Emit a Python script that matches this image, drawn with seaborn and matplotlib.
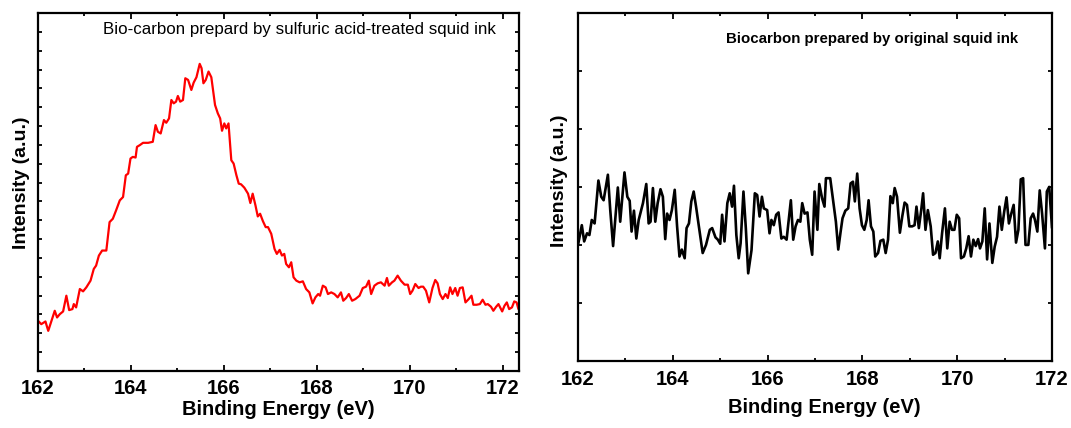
import numpy as np
import pandas as pd
import matplotlib
matplotlib.use('Agg')
import matplotlib.pyplot as plt
from matplotlib.ticker import MultipleLocator, FixedLocator, NullFormatter
import seaborn as sns

sns.set_theme(style='ticks')
plt.rcParams['font.family'] = ['Liberation Sans', 'DejaVu Sans']
plt.rcParams['text.color'] = 'black'
plt.rcParams['axes.labelcolor'] = 'black'
plt.rcParams['xtick.color'] = 'black'
plt.rcParams['ytick.color'] = 'black'

# S 2p spectrum, sulfuric acid-treated squid ink (binding energy in eV, intensity a.u.)
be_acid = [162.00, 162.07, 162.16, 162.22, 162.29, 162.36, 162.41, 162.47, 162.54, 162.61,
           162.67, 162.74, 162.77, 162.82, 162.90, 162.97, 163.04, 163.13, 163.20, 163.25,
           163.31, 163.38, 163.47, 163.54, 163.61, 163.68, 163.76, 163.83, 163.89, 163.94,
           163.99, 164.04, 164.10, 164.13, 164.19, 164.26, 164.37, 164.47, 164.53, 164.58,
           164.64, 164.71, 164.76, 164.82, 164.87, 164.92, 164.97, 165.01, 165.06, 165.12,
           165.17, 165.23, 165.30, 165.35, 165.41, 165.48, 165.52, 165.56, 165.61, 165.67,
           165.73, 165.78, 165.81, 165.87, 165.92, 165.96, 166.01, 166.05, 166.10, 166.16,
           166.21, 166.27, 166.32, 166.37, 166.44, 166.52, 166.57, 166.62, 166.68, 166.73,
           166.78, 166.84, 166.90, 166.95, 167.02, 167.09, 167.14, 167.20, 167.25, 167.30,
           167.34, 167.40, 167.45, 167.50, 167.56, 167.63, 167.70, 167.77, 167.84, 167.91,
           167.97, 168.03, 168.07, 168.13, 168.19, 168.24, 168.31, 168.38, 168.45, 168.52,
           168.57, 168.63, 168.69, 168.76, 168.83, 168.92, 168.99, 169.06, 169.12, 169.17,
           169.24, 169.31, 169.38, 169.46, 169.51, 169.55, 169.62, 169.67, 169.74, 169.81,
           169.89, 169.96, 170.01, 170.06, 170.12, 170.19, 170.24, 170.29, 170.35, 170.42,
           170.49, 170.55, 170.60, 170.65, 170.71, 170.77, 170.82, 170.87, 170.92, 170.98,
           171.03, 171.08, 171.14, 171.20, 171.27, 171.33, 171.37, 171.44, 171.51, 171.57,
           171.63, 171.68, 171.75, 171.80, 171.86, 171.91, 171.99, 172.04, 172.09, 172.14,
           172.20, 172.25, 172.30, 172.34]
int_acid = [150, 140, 148, 120, 150, 180, 160, 170, 178, 225,
            182, 185, 200, 190, 245, 238, 250, 270, 305, 315,
            345, 360, 360, 445, 455, 480, 510, 520, 585, 590,
            635, 640, 638, 670, 675, 682, 682, 685, 735, 715,
            710, 750, 742, 755, 810, 800, 805, 822, 805, 810,
            875, 870, 840, 862, 878, 918, 905, 860, 870, 895,
            878, 825, 795, 770, 755, 718, 740, 725, 740, 630,
            620, 585, 560, 558, 548, 530, 502, 530, 495, 462,
            470, 448, 430, 430, 410, 365, 350, 362, 345, 350,
            320, 310, 325, 280, 270, 265, 268, 245, 235, 202,
            220, 230, 225, 255, 250, 230, 235, 230, 220, 235,
            210, 218, 230, 210, 215, 225, 248, 252, 270, 230,
            255, 262, 265, 255, 278, 255, 265, 270, 285, 270,
            258, 258, 230, 240, 260, 248, 252, 252, 240, 205,
            248, 272, 262, 230, 215, 230, 218, 250, 230, 248,
            225, 248, 250, 205, 215, 225, 198, 198, 200, 213,
            198, 200, 192, 180, 192, 200, 178, 195, 205, 185,
            190, 208, 205, 185]

# S 2p spectrum, original squid ink
be_orig = [162.00, 162.08, 162.13, 162.19, 162.24, 162.29, 162.35, 162.43, 162.49, 162.54,
           162.63, 162.68, 162.74, 162.84, 162.89, 162.98, 163.04, 163.09, 163.13, 163.18,
           163.23, 163.28, 163.37, 163.44, 163.49, 163.53, 163.58, 163.63, 163.68, 163.74,
           163.79, 163.84, 163.88, 163.93, 163.98, 164.04, 164.09, 164.14, 164.19, 164.25,
           164.29, 164.34, 164.39, 164.44, 164.49, 164.54, 164.63, 164.70, 164.78, 164.83,
           164.90, 164.95, 165.00, 165.04, 165.09, 165.15, 165.20, 165.25, 165.29, 165.34,
           165.39, 165.43, 165.49, 165.54, 165.59, 165.66, 165.73, 165.78, 165.83, 165.88,
           165.92, 165.99, 166.04, 166.08, 166.13, 166.18, 166.23, 166.29, 166.34, 166.40,
           166.49, 166.54, 166.59, 166.64, 166.69, 166.73, 166.78, 166.84, 166.89, 166.94,
           166.99, 167.05, 167.09, 167.15, 167.20, 167.23, 167.32, 167.39, 167.44, 167.49,
           167.54, 167.58, 167.64, 167.70, 167.75, 167.80, 167.84, 167.89, 167.94, 167.99,
           168.04, 168.09, 168.13, 168.18, 168.23, 168.27, 168.33, 168.38, 168.44, 168.49,
           168.54, 168.59, 168.64, 168.68, 168.73, 168.79, 168.84, 168.89, 168.94, 168.99,
           169.05, 169.10, 169.14, 169.19, 169.24, 169.28, 169.33, 169.38, 169.44, 169.49,
           169.54, 169.59, 169.63, 169.68, 169.74, 169.79, 169.84, 169.89, 169.94, 169.99,
           170.04, 170.08, 170.14, 170.19, 170.24, 170.29, 170.34, 170.39, 170.44, 170.48,
           170.53, 170.58, 170.63, 170.68, 170.74, 170.79, 170.84, 170.89, 170.94, 170.99,
           171.04, 171.09, 171.14, 171.19, 171.24, 171.29, 171.34, 171.39, 171.44, 171.50,
           171.55, 171.60, 171.64, 171.69, 171.74, 171.79, 171.85, 171.89, 171.94, 172.00]
int_orig = [201, 235, 207, 221, 218, 244, 238, 312, 284, 278,
            322, 261, 199, 300, 241, 326, 284, 277, 224, 260,
            212, 244, 273, 306, 238, 241, 299, 241, 273, 297,
            284, 211, 255, 244, 261, 296, 233, 181, 193, 178,
            230, 238, 276, 293, 267, 238, 187, 201, 227, 230,
            214, 210, 203, 253, 207, 273, 290, 267, 303, 218,
            178, 204, 293, 230, 152, 192, 290, 287, 250, 284,
            264, 261, 221, 244, 235, 253, 257, 212, 215, 210,
            278, 210, 233, 244, 241, 273, 255, 257, 210, 184,
            293, 227, 306, 281, 267, 316, 316, 273, 241, 193,
            224, 247, 260, 264, 307, 310, 276, 324, 264, 235,
            227, 244, 278, 233, 224, 181, 187, 208, 210, 187,
            210, 285, 273, 299, 284, 222, 250, 274, 270, 233,
            233, 235, 267, 230, 261, 290, 227, 261, 233, 184,
            187, 207, 178, 221, 264, 195, 241, 227, 227, 253,
            247, 178, 181, 195, 216, 181, 210, 199, 211, 195,
            207, 264, 176, 238, 170, 198, 215, 267, 227, 258,
            283, 238, 255, 270, 205, 227, 314, 316, 201, 201,
            247, 255, 244, 224, 295, 255, 195, 293, 301, 230]

title_acid = 'Bio-carbon prepard by sulfuric acid-treated squid ink'
title_orig = 'Biocarbon prepared by original squid ink'

df_acid = pd.DataFrame({'be': be_acid, 'intensity': int_acid})
df_orig = pd.DataFrame({'be': be_orig, 'intensity': int_orig})

fig = plt.figure(figsize=(10.71, 4.28), dpi=100)
ax1 = fig.add_axes([0.0355, 0.1332, 0.449, 0.8364])
ax2 = fig.add_axes([0.5397, 0.1554, 0.4426, 0.8131])

sns.lineplot(data=df_acid, x='be', y='intensity', ax=ax1, color='#ff0000',
             lw=1.6, estimator=None, sort=False)
sns.lineplot(data=df_orig, x='be', y='intensity', ax=ax2, color='black',
             lw=1.9, estimator=None, sort=False)

ax1.set_xlim(162, 172.35)
ax1.set_ylim(0, 1070)
ax1.yaxis.set_major_locator(FixedLocator(np.linspace(0, 1070, 20)[1:-1]))

ax2.set_xlim(162, 172)
ax2.set_ylim(0, 600)
ax2.yaxis.set_major_locator(MultipleLocator(100))

for ax in (ax1, ax2):
    ax.xaxis.set_major_locator(MultipleLocator(2))
    ax.xaxis.set_minor_locator(MultipleLocator(1))
    ax.yaxis.set_major_formatter(NullFormatter())
    ax.tick_params(axis='both', which='both', direction='in', top=True, right=True,
                   width=1.3, color='black')
    ax.tick_params(axis='x', which='major', length=4.5, pad=6, labelsize=14.5)
    ax.tick_params(axis='x', which='minor', length=2.5)
    ax.tick_params(axis='y', which='major', length=3)
    for lbl in ax.get_xticklabels():
        lbl.set_fontweight('bold')
    for sp in ax.spines.values():
        sp.set_linewidth(1.6)
        sp.set_color('black')
        sp.set_visible(True)
    ax.set_xlabel('Binding Energy (eV)', fontsize=14.5, fontweight='bold', labelpad=1)
    ax.set_ylabel('Intensity (a.u.)', fontsize=14, fontweight='bold')

ax1.yaxis.set_label_coords(-0.016, 0.525)
ax2.yaxis.set_label_coords(-0.022, 0.52)
ax2.xaxis.set_label_coords(0.52, -0.105)

ax1.text(0.135, 0.953, title_acid, transform=ax1.transAxes, fontsize=12.2,
         ha='left', va='center')
ax2.text(0.312, 0.927, title_orig, transform=ax2.transAxes, fontsize=10.8,
         fontweight='bold', ha='left', va='center')

fig.savefig('out.png', dpi=100)
